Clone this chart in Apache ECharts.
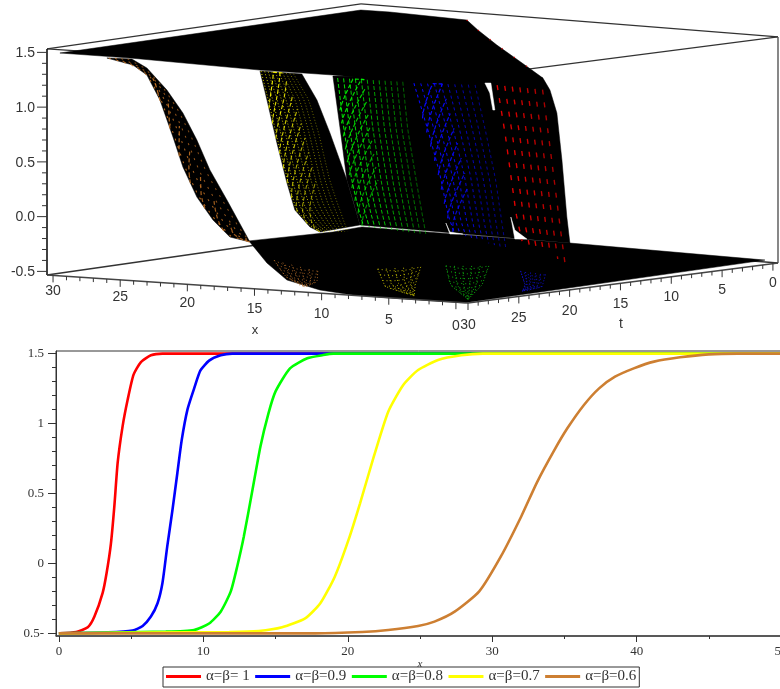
<!DOCTYPE html>
<html><head><meta charset="utf-8">
<style>html,body{margin:0;padding:0;background:#fff;overflow:hidden}#c{width:780px;height:689px}</style>
<script src="https://cdn.jsdelivr.net/npm/echarts@6/dist/echarts.min.js"></script>
</head><body><div id="c"></div>
<script>
// ---------- lower chart: profiles u(x) ----------
const legendNames = ['\u03b1=\u03b2= 1','\u03b1=\u03b2=0.9','\u03b1=\u03b2=0.8','\u03b1=\u03b2=0.7','\u03b1=\u03b2=0.6'];
const curveRed = [[0,-0.5],[1.2,-0.49],[2,-0.457],[2.46,-0.38],[3.03,-0.21],[3.3,-0.07],[3.6,0.14],[3.84,0.41],[4.07,0.72],[4.41,0.98],[4.76,1.17],[5.17,1.35],[5.68,1.44],[6.37,1.488],[7.17,1.5],[50,1.5]];
const curveBlue = [[0,-0.5],[3.38,-0.493],[5.1,-0.48],[5.8,-0.447],[6.37,-0.38],[6.83,-0.285],[7.17,-0.14],[7.5,0.12],[7.86,0.38],[8.2,0.645],[8.5,0.88],[8.9,1.1],[9.36,1.25],[9.8,1.38],[10.4,1.45],[11.2,1.488],[12,1.5],[50,1.5]];
const curveGreen = [[0,-0.5],[7.4,-0.488],[9.36,-0.476],[10.4,-0.43],[11.2,-0.345],[11.9,-0.2],[12.35,-0.02],[12.8,0.19],[13.4,0.525],[13.95,0.835],[14.5,1.07],[15,1.23],[16,1.395],[17.2,1.467],[18.3,1.49],[19,1.5],[50,1.5]];
const curveYellow = [[0,-0.5],[11.8,-0.49],[13.84,-0.483],[15.45,-0.457],[17.05,-0.393],[18.1,-0.285],[19.1,-0.095],[20.05,0.168],[20.85,0.43],[21.8,0.763],[22.8,1.085],[23.84,1.276],[24.87,1.383],[26.25,1.455],[27.86,1.488],[29.36,1.5],[50,1.5]];
const curveBrown = [[0,-0.5],[17.75,-0.5],[21,-0.49],[22.8,-0.476],[24.87,-0.447],[26,-0.416],[27.4,-0.345],[29.1,-0.2],[30.6,0.05],[32,0.334],[33.1,0.58],[34.3,0.81],[35.2,0.966],[36.35,1.133],[37.4,1.252],[38.5,1.335],[39.8,1.395],[41.2,1.443],[43,1.474],[45,1.495],[47,1.5],[50.2,1.5]];
const xMajor2d = [0,10,20,30,40,50];
const xMinor2d = [5,15,25,35,45];
const yMajor2d = [-0.5,0,0.5,1,1.5];
const yMinor2d = [-0.4,-0.3,-0.2,-0.1,0.1,0.2,0.3,0.4,0.6,0.7,0.8,0.9,1.1,1.2,1.3,1.4];
const yLabels2d = {'-0.5':'0.5-','0':'0','0.5':'0.5','1':'1','1.5':'1.5'};

// ---------- upper chart: surface outlines as [x, t, z] ----------
const topPlate = [[29.49,30,1.502],[30.08,0,1.486],[27.9,0,1.489],[22.11,0,1.471],[21.28,0,1.388],[19.85,0,1.264],[18.27,0,1.143],[17.22,0,1.061],[16.39,0,0.996],[20.38,0,0.922],[3.43,30,1.45],[9.16,30,1.467],[14.59,30,1.468],[24.27,30,1.499]];
const bottomPlate = [[15.41,30,-0.099],[14.07,30,-0.29],[12.58,30,-0.433],[10.13,30,-0.504],[7.67,30,-0.53],[4.91,30,-0.535],[-0.67,30,-0.535],[-1.04,30,-0.523],[-0.3,0,-0.506],[14.36,0,-0.491],[7,30,0.097],[9.16,30,0.033]];
const brownEdgeA = [[25.99,30,1.485],[24.05,30,1.437],[23.01,30,1.354],[22.04,30,1.134],[21.07,30,0.804],[20.33,30,0.536],[19.29,30,0.27],[18.09,30,0.07],[16.83,30,-0.075],[15.34,30,-0.108]];
const brownEdgeB = [[24.13,30,1.491],[23.01,30,1.418],[21.52,30,1.229],[20.33,30,1.029],[19.29,30,0.791],[18.32,30,0.525],[17.05,30,0.261],[15.34,30,-0.108]];
const yellowEdgeA = [[14.59,30,1.459],[14.07,30,1.199],[13.33,30,0.812],[12.58,30,0.453],[11.99,30,0.211],[10.87,30,0.065],[10.13,30,0.026]];
const yellowEdgeB = [[11.47,30,1.457],[10.35,30,1.229],[9.38,30,0.936],[8.12,30,0.517],[7.15,30,0.114]];
const yellowMeshEdge = [[11.91,30,1.454],[10.72,30,1.226],[9.98,30,0.931],[9.16,30,0.508],[8.41,30,0.24],[7.89,30,0.044]];
const wallLeft = [[9.16,30,1.458],[8.64,30,0.997],[8.12,30,0.517],[7.67,30,0.338],[7.15,30,0.114]];
const wallRight = [[16.39,0,0.996],[15.86,0,0.892],[15.34,0,0.687],[14.96,0,0.261],[14.59,0,-0.256],[14.36,0,-0.491]];
const gapA = [[20.75,0,0.909],[20.3,0,0.913],[20,0,0.67],[20.15,0,0.668],[20.38,0,0.821]];
const gapB = [[23.68,0,-0.398],[23.38,0,-0.477],[22.41,0,-0.486],[23.38,0,-0.495]];
const gapC = [[18.8,0,-0.296],[18.5,0,-0.412],[17.59,0,-0.486],[18.5,0,-0.494]];
const greenMeshA = [[8.94,30,1.442],[8.49,30,0.998],[7.89,30,0.519],[7.37,30,0.249],[7,30,0.106]];
const greenMeshB = [[3.65,30,1.448],[3.28,30,1.013],[2.53,30,0.471],[1.94,30,0.065]];
const blueMeshA = [[26.24,0,0.856],[25.11,0,0.41],[24.29,0,0.053],[23.61,0,-0.342],[23.16,0,-0.475]];
const blueMeshB = [[21.13,0,0.887],[20.38,0,0.483],[19.62,0,0.034],[18.87,0,-0.598]];
const redMeshA = [[20,0,0.898],[19.4,0,0.465],[18.57,0,-0.257],[18.12,0,-0.5]];
const redMeshB = [[16.02,0,0.89],[15.26,0,0.167],[14.36,0,-0.692]];
const redRim = [[22.11,0,1.471],[21.28,0,1.388],[19.85,0,1.264],[18.27,0,1.143],[17.22,0,1.061]];
const brownFoot = {a:[[22.94,17.69,-0.5],[16.63,24.85,-0.5],[11.83,29.22,-0.5]], b:[[16.96,21.25,-0.5],[13.15,26.29,-0.5],[11.83,29.22,-0.5]]};
const yellowFoot = {a:[[14.78,18.24,-0.5],[7.9,26.53,-0.5],[3.11,30,-0.5]], b:[[13.43,15.8,-0.5],[7.19,24.52,-0.5],[3.11,30,-0.5]]};
const greenFoot = {a:[[12.58,14.45,-0.5],[5.47,23.35,-0.5],[-0.9,30,-0.5]], b:[[10.47,13.01,-0.5],[3.9,22.28,-0.5],[-0.9,30,-0.5]]};
const blueFoot = {a:[[6.99,14.46,-0.5],[1.79,20.84,-0.5],[-0.4,24,-0.5]], b:[[4.61,15.13,-0.5],[0.19,21.28,-0.5],[-0.4,24,-0.5]]};
const xTicks3d = [0,5,10,15,20,25,30];
const tTicks3d = [0,5,10,15,20,25,30];
const zTicks3d = [-0.5,0,0.5,1,1.5];
const zLabels3d = ['-0.5','0.0','0.5','1.0','1.5'];

// ---------- box geometry (style/layout, not data) ----------
const BOX = {F:[468,303], L:[47,275], R:[778,263], D:[361,230], zUnit:109.5, zLo:-0.533, zHi:1.532, xLo:-0.9, xHi:30.45, tLo:-0.5, tHi:30};
function project(x,t,z){
  const fx=(x-BOX.xLo)/(BOX.xHi-BOX.xLo), ft=(BOX.tHi-t)/(BOX.tHi-BOX.tLo);
  const a=[BOX.F[0]+(BOX.R[0]-BOX.F[0])*ft, BOX.F[1]+(BOX.R[1]-BOX.F[1])*ft];
  const b=[BOX.L[0]+(BOX.D[0]-BOX.L[0])*ft, BOX.L[1]+(BOX.D[1]-BOX.L[1])*ft];
  return [a[0]+(b[0]-a[0])*fx, a[1]+(b[1]-a[1])*fx-BOX.zUnit*(z-BOX.zLo)];
}
const pj = p => project(p[0],p[1],p[2]);
function resample(pts,n){
  const s=pts.map(pj); let d=[0];
  for(let i=1;i<s.length;i++) d.push(d[i-1]+Math.hypot(s[i][0]-s[i-1][0],s[i][1]-s[i-1][1]));
  const out=[]; let j=0;
  for(let i=0;i<=n;i++){
    const target=d[d.length-1]*i/n;
    while(j<d.length-2&&d[j+1]<target) j++;
    const f=(target-d[j])/((d[j+1]-d[j])||1);
    out.push([s[j][0]+(s[j+1][0]-s[j][0])*f,s[j][1]+(s[j+1][1]-s[j][1])*f]);
  }
  return out;
}
const mix=(a,b,u)=>[a[0]+(b[0]-a[0])*u,a[1]+(b[1]-a[1])*u];
const along=(A,f)=>{const c=Math.max(0,Math.min(A.length-1.001,f)),i=Math.floor(c);return mix(A[i],A[i+1],c-i);};

const LINE_COLORS=['#ff0000','#0000ff','#00ff00','#ffff00','#cd7f32'];
const blacks=[topPlate,bottomPlate,brownEdgeA.concat(brownEdgeB.slice().reverse()),yellowEdgeA.concat(yellowEdgeB.slice().reverse()),wallLeft.concat(wallRight.slice().reverse())];
const gaps=[gapA,gapB,gapC];
const meshes=[
 {a:brownEdgeA,b:brownEdgeB,color:'#c87425',cols:4,arcs:7,span:3,reach:0.5,colDash:[2,6],arcDash:[4,3],w:1.2,alpha:0.95,fade:0.4,dim:0.2},
 {a:yellowEdgeA,b:yellowMeshEdge,color:'#f8f400',cols:10,arcs:10,span:8,reach:0.62,colDash:[1,2],arcDash:[4,2],w:1.1,alpha:0.95,fade:0.55,dim:0.45},
 {a:greenMeshA,b:greenMeshB,color:'#00f000',cols:12,arcs:10,span:8,reach:0.4,colDash:[4,2],arcDash:[4,2],w:1.2,alpha:0.95,fade:0.6,dim:0.4},
 {a:blueMeshA,b:blueMeshB,color:'#0808ff',cols:10,arcs:9,span:8,reach:0.45,colDash:[3,3],arcDash:[4,2],w:1.2,alpha:1,fade:0.5,dim:0.2},
 {a:redMeshA,b:redMeshB,color:'#e60000',cols:7,arcs:0,span:0,reach:1,colDash:[5,8],arcDash:[1,1],w:1.6,alpha:1,fade:0.3,dim:0}
];
const feet=[[brownFoot,'#b06a28'],[yellowFoot,'#c8c000'],[greenFoot,'#10c010'],[blueFoot,'#1010d8']];

function renderSurface(params,api){
  const C=p=>api.coord(p), kids=[];
  const poly=(pts,fill)=>kids.push({type:'polygon',shape:{points:pts.map(C)},style:{fill:fill,stroke:fill,lineWidth:0.5},silent:true});
  const wire=(pts,col,dash,w,alpha)=>kids.push({type:'polyline',shape:{points:pts.map(C)},style:{fill:null,stroke:col,lineWidth:w,lineDash:dash,opacity:alpha},silent:true});
  blacks.forEach(b=>poly(b.map(pj),'#000'));
  gaps.forEach(g=>poly(g.map(pj),'#fff'));
  const N=24;
  meshes.forEach(m=>{
    const A=resample(m.a,N),B=resample(m.b,N);
    for(let k=0;k<m.cols;k++){
      const u=(k+0.3)/m.cols;
      wire(A.map((p,i)=>mix(p,B[i],u)),m.color,m.colDash,m.w*0.85,m.alpha*(1-m.fade*u));
    }
    for(let k=0;k<m.arcs;k++){
      const start=N*(k+2.5)/(m.arcs+1.5);
      const pts=[];
      for(let q=0;q<=10;q++){
        const u=q/10, f=start-m.span*Math.pow(u,0.85);
        pts.push(mix(along(A,f),along(B,f),u*m.reach));
      }
      wire(pts,m.color,m.arcDash,m.w,m.alpha*(1-m.dim*k/m.arcs));
    }
  });
  wire(redRim.map(pj),'#d00000',[1,14],1.5,1);
  feet.forEach(f=>{
    const A=resample(f[0].a,8),B=resample(f[0].b,8);
    for(let k=0;k<6;k++) wire(A.map((p,i)=>mix(p,B[i],k/5)),f[1],[1,2],1,0.9);
    for(let i=0;i<7;i++) wire([0,.25,.5,.75,1].map(u=>{const p=mix(A[i],B[i],u);return [p[0],p[1]+3*Math.sin(u*Math.PI)];}),f[1],[1,3],1,0.9);
  });
  return {type:'group',children:kids};
}

function renderFrame(params,api){
  const C=p=>api.coord(p), kids=[];
  const seg=(a,b,col,w)=>kids.push({type:'line',shape:{x1:C(a)[0],y1:C(a)[1],x2:C(b)[0],y2:C(b)[1]},style:{stroke:col,lineWidth:w},silent:true});
  const {xLo,xHi,tLo,tHi,zLo,zHi}=BOX;
  const V=(x,t,z)=>project(x,t,z);
  const c=[V(xHi,tHi,zLo),V(xLo,tHi,zLo),V(xLo,tLo,zLo),V(xHi,tLo,zLo),V(xHi,tHi,zHi),V(xLo,tHi,zHi),V(xLo,tLo,zHi),V(xHi,tLo,zHi)];
  seg(c[3],c[0],'#333',1.3); seg(c[3],c[2],'#333',1.3);
  seg(c[4],c[7],'#333',1.3); seg(c[7],c[6],'#333',1.3); seg(c[6],c[5],'#333',1.3); seg(c[5],c[4],'#333',1.3);
  seg(c[0],c[4],'#111',1.6); seg(c[2],c[6],'#555',1.4);
  return {type:'group',children:kids};
}

function renderAxes(params,api){
  const C=p=>api.coord(p), kids=[];
  const seg=(a,b,col,w)=>kids.push({type:'line',shape:{x1:C(a)[0],y1:C(a)[1],x2:C(b)[0],y2:C(b)[1]},style:{stroke:col,lineWidth:w},silent:true});
  const txt=(s,p,align,font)=>{const q=C(p);kids.push({type:'text',style:{text:s,x:q[0],y:q[1],align:align,verticalAlign:'middle',fill:'#333',font:font||'14px "Liberation Sans"'},silent:true});};
  const {xLo,xHi,tLo,tHi,zLo}=BOX;
  seg(project(xHi,tHi,zLo),project(xLo,tHi,zLo),'#444',1.6);
  seg(project(xLo,tHi,zLo),project(xLo,tLo,zLo),'#444',1.6);
  for(let v=0;v<=30;v++){
    const a=project(v,tHi,zLo), major=v%5===0;
    seg(a,[a[0],a[1]+(major?7:4)],'#333',1);
    const b=project(xLo,v,zLo);
    seg(b,[b[0],b[1]+(major?7:4)],'#333',1);
  }
  xTicks3d.forEach(v=>{const a=project(v,tHi,zLo);txt(String(v),[a[0],a[1]+16+8*(30-v)/30],'center');});
  tTicks3d.forEach(v=>{const a=project(xLo,v,zLo);txt(String(v),[a[0],a[1]+19+3*v/30],'center');});
  txt('x',[255,330],'center','13px "Liberation Sans"');
  txt('t',[621,324],'center','14px "Liberation Sans"');
  for(let i=0;i<=20;i++){
    const z=-0.5+i*0.1, a=project(xHi,tHi,z), major=i%5===0;
    seg([a[0],a[1]],[a[0]-(major?10:5),a[1]],'#333',1);
  }
  zTicks3d.forEach((z,i)=>{const a=project(xHi,tHi,z);txt(zLabels3d[i],[a[0]-12,a[1]+1],'right');});
  return {type:'group',children:kids};
}

const makeLine=(name,data,color)=>({name,type:'line',data,xAxisIndex:0,yAxisIndex:0,showSymbol:false,symbol:'none',smooth:0.2,lineStyle:{color,width:2.6},itemStyle:{color},silent:true,clip:true});
const FONT2D='"Liberation Serif"';
const chart=echarts.init(document.getElementById('c'),null,{renderer:'canvas'});
chart.setOption({
  animation:false,
  backgroundColor:'#fff',
  grid:[{left:56,top:351,width:728,height:285,outerBoundsMode:'none',containLabel:false,show:true,borderColor:'#333',borderWidth:1,backgroundColor:'transparent'},
        {left:0,top:0,width:780,height:345,outerBoundsMode:'none',show:false}],
  legend:{data:legendNames,left:163,top:667,itemWidth:35,itemHeight:3,icon:'rect',itemGap:5.5,padding:[2,3,3,3],selectedMode:false,
    borderColor:'#333',borderWidth:1,backgroundColor:'#fff',textStyle:{fontFamily:FONT2D,fontSize:15,color:'#333'}},
  xAxis:[
   {gridIndex:0,type:'value',min:-0.2,max:50.2,position:'bottom',splitLine:{show:false},
    axisLine:{onZero:false,lineStyle:{color:'#444',width:1.5}},
    axisTick:{length:6,customValues:xMajor2d,lineStyle:{color:'#333'}},
    axisLabel:{customValues:xMajor2d,margin:9,fontFamily:FONT2D,fontSize:13,color:'#333',showMinLabel:true,showMaxLabel:true,hideOverlap:false},
    name:'x',nameLocation:'middle',nameGap:19,nameTextStyle:{fontFamily:FONT2D,fontStyle:'italic',fontSize:11,color:'#333'}},
   {gridIndex:0,type:'value',min:-0.2,max:50.2,position:'bottom',splitLine:{show:false},axisLine:{show:false,onZero:false},
    axisTick:{length:3,customValues:xMinor2d,lineStyle:{color:'#333'}},axisLabel:{show:false}},
   {gridIndex:1,type:'value',min:0,max:780,show:false}
  ],
  yAxis:[
   {gridIndex:0,type:'value',min:-0.519,max:1.519,position:'left',splitLine:{show:false},
    axisLine:{onZero:false,lineStyle:{color:'#333'}},
    axisTick:{length:8,customValues:yMajor2d,lineStyle:{color:'#333'}},
    axisLabel:{customValues:yMajor2d,margin:12,fontFamily:FONT2D,fontSize:13,color:'#333',formatter:v=>yLabels2d[String(v)]||''}},
   {gridIndex:0,type:'value',min:-0.519,max:1.519,position:'left',splitLine:{show:false},axisLine:{show:false,onZero:false},
    axisTick:{length:4,customValues:yMinor2d,lineStyle:{color:'#333'}},axisLabel:{show:false}},
   {gridIndex:1,type:'value',min:0,max:345,inverse:true,show:false}
  ],
  series:[
   makeLine(legendNames[0],curveRed,LINE_COLORS[0]),
   makeLine(legendNames[1],curveBlue,LINE_COLORS[1]),
   makeLine(legendNames[2],curveGreen,LINE_COLORS[2]),
   makeLine(legendNames[3],curveYellow,LINE_COLORS[3]),
   makeLine(legendNames[4],curveBrown,LINE_COLORS[4]),
   {type:'custom',name:'box3d',xAxisIndex:2,yAxisIndex:2,coordinateSystem:'cartesian2d',clip:false,silent:true,z:2,data:[[0,0]],renderItem:renderFrame},
   {type:'custom',name:'surface3d',xAxisIndex:2,yAxisIndex:2,coordinateSystem:'cartesian2d',clip:false,silent:true,z:3,data:[[0,0]],renderItem:renderSurface},
   {type:'custom',name:'axes3d',xAxisIndex:2,yAxisIndex:2,coordinateSystem:'cartesian2d',clip:false,silent:true,z:4,data:[[0,0]],renderItem:renderAxes}
  ]
});
</script></body></html>
